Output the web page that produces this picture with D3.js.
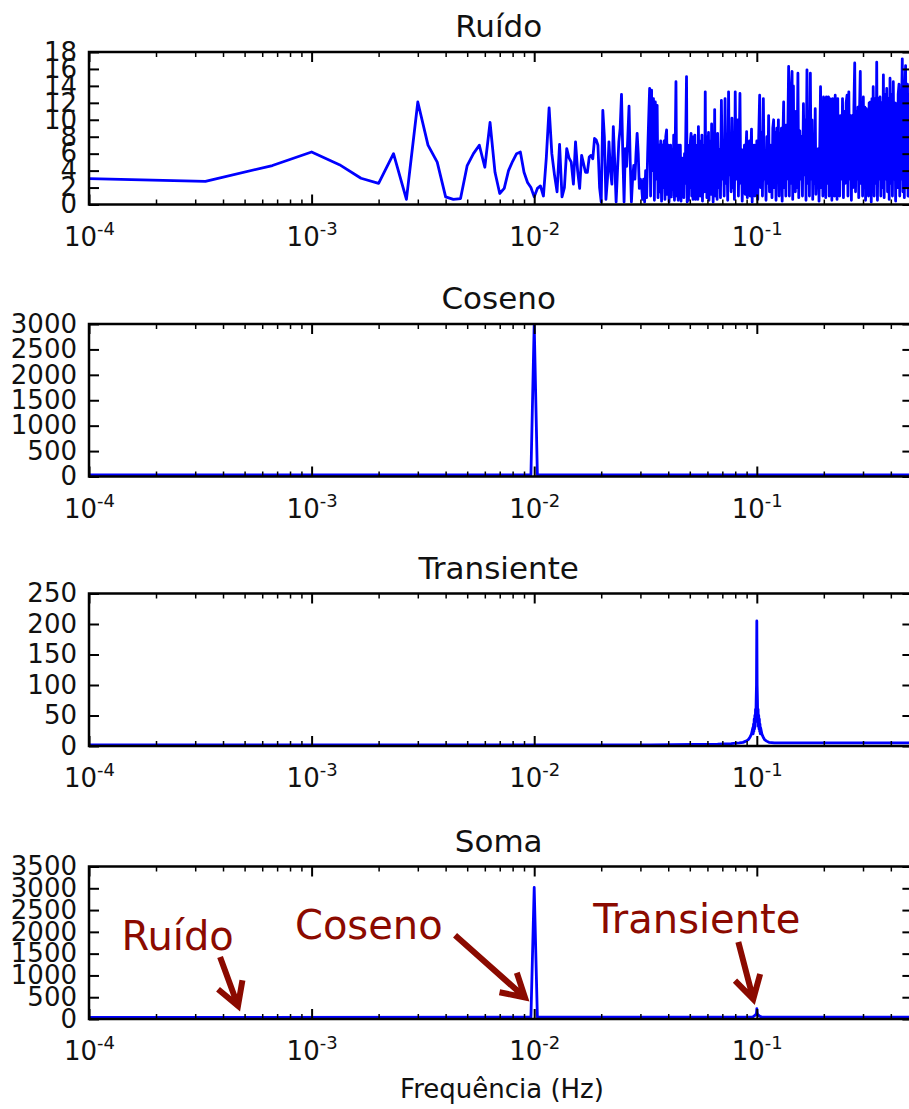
<!DOCTYPE html>
<html>
<head>
<meta charset="utf-8">
<script src="https://cdn.jsdelivr.net/npm/d3@7/dist/d3.min.js"></script>
<style>
  body { margin: 0; background: #fff; }
  svg text { font-family: "DejaVu Sans", sans-serif; }
</style>
</head>
<body>
<div id="chart"></div>
<script>
// spectra are stored as [FFT bin, amplitude]; bin k is k / 3000 Hz (3000 samples at 1 Hz)
const nSamples = 3000;

const titles = ['Ruído', 'Coseno', 'Transiente', 'Soma'];
const yMax = [18, 3000, 250, 3500];
const yStep = [2, 500, 50, 500];
const xMajorTicks = [1e-4, 1e-3, 1e-2, 1e-1];
const xTickExponents = ['-4', '-3', '-2', '-1'];
const xLabel = 'Frequência (Hz)';

const ruido = [
  [0, 3.05], [1, 2.72], [2, 4.6], [3, 6.2], [4, 4.7], [5, 3.1], [6, 2.5], [7, 6.0], [8, 0.6], [9, 12.1],
  [10, 7.0], [11, 5.0], [12, 0.9], [13, 0.6], [14, 0.7], [15, 4.6], [16, 6.0], [17, 7.0], [18, 4.4], [19, 9.7],
  [20, 3.8], [21, 1.3], [22, 1.9], [23, 4.0], [24, 5.1], [25, 6.0], [26, 6.2], [27, 3.8], [28, 2.6], [29, 2.0],
  [30, 0.9], [31, 1.9], [32, 2.2], [33, 1.0], [34, 5.5], [35, 11.4], [36, 6.0], [37, 3.5], [38, 1.5], [39, 7.1],
  [40, 0.9], [41, 2.0], [42, 6.6], [43, 5.5], [44, 5.0], [45, 2.4], [46, 7.4], [47, 4.0], [48, 1.9], [49, 5.8],
  [50, 4.8], [51, 3.8], [52, 3.8], [53, 5.6], [54, 5.8], [55, 5.4], [56, 7.8], [57, 7.6], [58, 7.0], [59, 2.0],
  [60, 0.3], [61, 11.1], [62, 8.0], [63, 0.6], [64, 3.0], [65, 7.4], [66, 4.0], [67, 2.4], [68, 9.2], [69, 5.0],
  [70, 0.3], [71, 4.0], [72, 7.4], [73, 9.0], [74, 13.0], [75, 6.0], [76, 0.3], [77, 6.6], [78, 4.5], [79, 8.0],
  [80, 11.6], [81, 5.0], [82, 0.3], [83, 3.0], [84, 4.6], [85, 3.0], [86, 6.0], [87, 8.4], [88, 6.0], [89, 1.9],
  [90, 3.0], [91, 2.4], [92, 0.6], [93, 3.0], [94, 0.3], [95, 4.0], [96, 0.8], [97, 6.0], [98, 10.0], [99, 13.7],
  [100, 1.0], [101, 13.5], [102, 4.0], [103, 12.5], [104, 0.5], [105, 12.1], [106, 3.0], [107, 11.7], [108, 0.8], [109, 7.0],
  [110, 1.5], [111, 7.5], [112, 0.4], [113, 7.0], [114, 2.0], [115, 7.5], [116, 0.6], [117, 8.0], [118, 8.8], [119, 1.2],
  [120, 7.0], [121, 0.3], [122, 2.4], [123, 7.0], [124, 0.9], [125, 6.5], [126, 1.8], [127, 8.2], [128, 0.5], [129, 7.0],
  [130, 14.5], [131, 1.0], [132, 6.0], [133, 0.5], [134, 7.0], [135, 2.0], [136, 7.0], [137, 0.4], [138, 5.5], [139, 1.5],
  [140, 4.0], [141, 0.8], [142, 6.0], [143, 2.5], [144, 9.0], [145, 15.1], [146, 0.3], [147, 7.0], [148, 0.5], [149, 6.0],
  [150, 2.0], [151, 7.5], [152, 8.4], [153, 1.0], [154, 7.5], [155, 0.6], [156, 8.0], [157, 1.5], [158, 8.2], [159, 0.6],
  [160, 7.0], [161, 2.0], [162, 5.5], [163, 0.6], [164, 9.2], [165, 3.0], [166, 6.0], [167, 1.0], [168, 7.5], [169, 2.5],
  [170, 8.2], [171, 0.4], [172, 5.0], [173, 3.0], [174, 7.0], [175, 1.5], [176, 13.3], [177, 2.0], [178, 6.5], [179, 0.8],
  [180, 8.0], [181, 3.5], [182, 8.5], [183, 0.5], [184, 6.0], [185, 2.0], [186, 7.5], [187, 1.2], [188, 9.5], [189, 3.0],
  [190, 5.5], [191, 0.3], [192, 7.0], [193, 2.5], [194, 11.2], [195, 1.0], [196, 6.0], [197, 3.5], [198, 7.5], [199, 0.6],
  [200, 8.4], [202, 2.0], [204, 6.5], [206, 0.8], [208, 12.3], [210, 3.0], [212, 7.0], [214, 1.0], [216, 12.5], [218, 2.5],
  [220, 6.5], [222, 0.5], [224, 13.3], [226, 3.5], [228, 7.5], [230, 1.5], [232, 10.2], [234, 2.0], [236, 7.0], [238, 0.6],
  [240, 13.3], [242, 3.0], [244, 6.0], [246, 10.0], [248, 1.0], [250, 7.0], [252, 13.1], [254, 2.5], [256, 6.5], [258, 0.4],
  [260, 6.4], [262, 3.0], [264, 7.0], [266, 1.2], [268, 6.0], [270, 8.6], [272, 0.8], [274, 5.5], [276, 2.5], [278, 7.5],
  [280, 1.0], [282, 6.0], [284, 8.9], [286, 0.3], [288, 6.5], [290, 3.0], [292, 7.0], [294, 1.0], [296, 7.0], [298, 2.0],
  [300, 7.5], [303, 0.6], [306, 8.0], [309, 12.9], [312, 2.0], [315, 8.5], [318, 1.0], [321, 12.5], [324, 3.0], [327, 5.6],
  [330, 0.5], [333, 8.0], [336, 2.5], [339, 10.5], [342, 1.5], [345, 7.0], [348, 5.6], [351, 0.8], [354, 9.0], [357, 10.0],
  [360, 2.0], [363, 8.5], [366, 0.5], [369, 9.0], [372, 3.0], [375, 10.0], [378, 1.0], [381, 8.4], [384, 3.5], [387, 9.0],
  [390, 0.4], [393, 8.0], [396, 12.1], [399, 2.0], [402, 9.0], [405, 1.0], [408, 9.4], [411, 3.0], [414, 10.0], [417, 16.3],
  [420, 1.0], [423, 11.0], [426, 2.5], [429, 14.0], [432, 15.7], [435, 0.6], [438, 14.0], [441, 3.0], [444, 10.0], [447, 1.5],
  [450, 11.0], [454, 2.0], [459, 15.5], [463, 0.8], [468, 8.7], [472, 3.0], [477, 8.0], [481, 1.0], [486, 11.9], [490, 3.5],
  [495, 10.0], [499, 0.5], [504, 15.9], [508, 2.5], [513, 11.0], [517, 1.0], [522, 15.5], [526, 3.0], [531, 10.0], [535, 0.6],
  [540, 7.0], [544, 2.5], [549, 11.3], [553, 1.2], [558, 6.0], [562, 3.0], [567, 6.6], [571, 0.4], [576, 8.0], [580, 13.9],
  [585, 2.0], [589, 12.0], [594, 1.0], [598, 12.7], [603, 3.0], [607, 12.5], [612, 0.8], [616, 12.7], [621, 2.5], [625, 12.0],
  [630, 12.7], [634, 1.0], [639, 12.5], [643, 3.5], [648, 12.3], [652, 0.5], [657, 12.5], [661, 2.0], [666, 12.0], [670, 1.0],
  [675, 12.9], [679, 3.0], [684, 12.0], [688, 0.6], [693, 12.5], [697, 2.0], [700, 10.5], [707, 1.0], [714, 10.5], [721, 3.0],
  [728, 12.5], [735, 0.8], [742, 11.0], [749, 2.5], [756, 12.0], [763, 12.9], [770, 1.0], [777, 13.3], [784, 3.0], [791, 10.5],
  [798, 0.5], [805, 10.5], [812, 2.0], [819, 11.5], [826, 16.7], [833, 1.5], [840, 11.0], [847, 3.0], [854, 11.5], [861, 0.8],
  [868, 11.0], [875, 15.7], [882, 2.5], [889, 11.5], [896, 1.0], [903, 12.7], [910, 3.0], [917, 11.5], [924, 0.5], [931, 11.3],
  [938, 2.0], [945, 11.0], [952, 1.0], [959, 12.0], [966, 3.0], [973, 12.1], [980, 0.3], [987, 12.5], [994, 2.0], [1000, 13.9],
  [1010, 1.0], [1020, 12.5], [1030, 2.5], [1037, 16.8], [1045, 0.5], [1055, 12.5], [1065, 3.0], [1073, 12.7], [1082, 1.0], [1092, 12.0],
  [1102, 2.0], [1111, 15.3], [1120, 0.8], [1130, 13.0], [1140, 3.0], [1150, 13.7], [1160, 1.5], [1170, 12.5], [1180, 0.6], [1190, 14.9],
  [1200, 2.5], [1210, 13.0], [1220, 1.0], [1231, 14.5], [1241, 3.0], [1251, 12.0], [1261, 0.4], [1274, 11.9], [1284, 2.0], [1295, 13.0],
  [1306, 14.2], [1316, 1.0], [1326, 13.5], [1336, 3.0], [1345, 13.5], [1351, 17.2], [1360, 1.5], [1370, 14.0], [1380, 0.8], [1390, 14.0],
  [1398, 16.4], [1406, 2.0], [1414, 13.0], [1426, 14.2], [1434, 1.0], [1444, 13.0], [1454, 2.5], [1464, 12.0], [1474, 0.5], [1484, 12.0],
  [1492, 1.0], [1500, 10.0]
];

const coseno = [[0, 30], [29, 30], [30, 3000], [31, 30], [1500, 30]];

const transiente = [
  [0, 2], [100, 2], [200, 3], [230, 4], [250, 5], [260, 6], [268, 8], [274, 10], [278, 13], [281, 16],
  [284, 20], [286, 25], [288, 30], [289, 20], [290, 36], [291, 24], [292, 44], [293, 28], [294, 50], [295, 32],
  [296, 60], [297, 40], [298, 75], [299, 100], [300, 205], [301, 100], [302, 75], [303, 40], [304, 60], [305, 32],
  [306, 50], [307, 28], [308, 44], [309, 24], [310, 36], [311, 20], [312, 30], [314, 25], [316, 20], [319, 16],
  [322, 13], [326, 10], [332, 8], [340, 6], [360, 5], [1500, 5]
];

const soma = [
  [0, 35], [29, 40], [30, 3020], [31, 40], [285, 40], [290, 60], [294, 80], [297, 100], [299, 140], [300, 235],
  [301, 140], [303, 100], [306, 80], [310, 60], [316, 45], [1500, 40]
];

const series = [ruido, coseno, transiente, soma];

// annotations on the "Soma" panel: text anchor, arrow tail and arrow tip in data units (Hz, amplitude)
const annotations = [
  { label: 'Ruído', text: [1.40e-4, 1576], tail: [3.88e-4, 1421], tip: [4.67e-4, 301] },
  { label: 'Coseno', text: [8.42e-4, 1847], tail: [4.41e-3, 1924], tip: [9.09e-3, 494] },
  { label: 'Transiente', text: [1.843e-2, 1963], tail: [8.26e-2, 1769], tip: [9.64e-2, 457] }
];

const width = 909;
const height = 1109;
const plotLeft = 89;
const plotRight = 912.4;   // right spine falls just outside the picture
const panelTops = [52, 324, 593.5, 866.5];
const panelHeight = 152.5;
const tickFont = 26;
const blue = '#0000ff';
const annotColor = '#8b0a00';

const svg = d3.select('#chart')
  .append('svg')
  .attr('width', width)
  .attr('height', height)
  .style('background', '#fff');

const x = d3.scaleLog()
  .domain([1e-4, 0.5])
  .range([plotLeft, plotRight])
  .clamp(true);   // DC bin (0 Hz) is pinned to the left edge, like a clipped log axis

const isMajor = t => xMajorTicks.some(m => Math.abs(t / m - 1) < 1e-9);
const xMinorTicks = x.ticks().filter(t => !isMajor(t));

const line = d3.line()
  .x(d => x(d[0] / nSamples));

series.forEach((data, i) => {
  const top = panelTops[i];
  const bottom = top + panelHeight;
  const y = d3.scaleLinear().domain([0, yMax[i]]).range([bottom, top]);
  const yTicks = d3.range(0, yMax[i] + yStep[i] / 2, yStep[i]);

  const g = svg.append('g');

  g.append('clipPath')
    .attr('id', `clip${i}`)
    .append('rect')
    .attr('x', plotLeft)
    .attr('y', top)
    .attr('width', plotRight - plotLeft)
    .attr('height', panelHeight);

  // spectrum
  g.append('path')
    .datum(data)
    .attr('clip-path', `url(#clip${i})`)
    .attr('fill', 'none')
    .attr('stroke', blue)
    .attr('stroke-width', 2.8)
    .attr('stroke-linejoin', 'round')
    .attr('d', line.y(d => y(d[1])));

  // left axis with labels, ticks pointing in
  g.append('g')
    .attr('transform', `translate(${plotLeft},0)`)
    .call(d3.axisLeft(y).tickValues(yTicks).tickFormat(d3.format('d'))
      .tickSizeInner(-10).tickSizeOuter(0).tickPadding(12))
    .call(a => a.select('.domain').remove())
    .call(a => a.selectAll('line').attr('stroke-width', 2))
    .call(a => a.selectAll('text').attr('font-size', tickFont).attr('fill', '#111')
      .attr('font-family', '"DejaVu Sans", sans-serif'));

  // right axis, ticks only
  g.append('g')
    .attr('transform', `translate(${plotRight},0)`)
    .call(d3.axisRight(y).tickValues(yTicks).tickSizeInner(-10).tickSizeOuter(0).tickFormat(''))
    .call(a => a.select('.domain').remove())
    .call(a => a.selectAll('line').attr('stroke-width', 2));

  // bottom major ticks with 10^n labels
  g.append('g')
    .attr('transform', `translate(0,${bottom})`)
    .call(d3.axisBottom(x).tickValues(xMajorTicks).tickSizeInner(-10).tickSizeOuter(0).tickPadding(23))
    .call(a => a.select('.domain').remove())
    .call(a => a.selectAll('line').attr('stroke-width', 2))
    .call(a => a.selectAll('text')
      .attr('font-size', tickFont)
      .attr('fill', '#111')
      .attr('font-family', '"DejaVu Sans", sans-serif')
      .each(function(d, j) {
        const t = d3.select(this).text('10');
        t.append('tspan')
          .attr('dy', -11)
          .attr('font-size', 18)
          .text(xTickExponents[j]);
      }));

  // bottom minor ticks
  g.append('g')
    .attr('transform', `translate(0,${bottom})`)
    .call(d3.axisBottom(x).tickValues(xMinorTicks).tickSizeInner(-5).tickSizeOuter(0).tickFormat(''))
    .call(a => a.select('.domain').remove())
    .call(a => a.selectAll('line').attr('stroke-width', 1.5));

  // top ticks
  g.append('g')
    .attr('transform', `translate(0,${top})`)
    .call(d3.axisTop(x).tickValues(xMajorTicks).tickSizeInner(-10).tickSizeOuter(0).tickFormat(''))
    .call(a => a.select('.domain').remove())
    .call(a => a.selectAll('line').attr('stroke-width', 2));

  g.append('g')
    .attr('transform', `translate(0,${top})`)
    .call(d3.axisTop(x).tickValues(xMinorTicks).tickSizeInner(-5).tickSizeOuter(0).tickFormat(''))
    .call(a => a.select('.domain').remove())
    .call(a => a.selectAll('line').attr('stroke-width', 1.5));

  // frame
  g.append('rect')
    .attr('x', plotLeft)
    .attr('y', top)
    .attr('width', plotRight - plotLeft)
    .attr('height', panelHeight)
    .attr('fill', 'none')
    .attr('stroke', '#000')
    .attr('stroke-width', 2.5);

  // title
  g.append('text')
    .attr('x', (plotLeft + plotRight) / 2 - 2)
    .attr('y', top - 15)
    .attr('text-anchor', 'middle')
    .attr('font-size', 31)
    .attr('fill', '#111')
    .text(titles[i]);

  if (i === series.length - 1) {
    g.append('text')
      .attr('x', 502)
      .attr('y', bottom + 79)
      .attr('text-anchor', 'middle')
      .attr('font-size', tickFont)
      .attr('fill', '#111')
      .text(xLabel);

    const notes = g.append('g');
    annotations.forEach(a => {
      const tip = [x(a.tip[0]), y(a.tip[1])];
      const tail = [x(a.tail[0]), y(a.tail[1])];
      const ang = Math.atan2(tip[1] - tail[1], tip[0] - tail[0]);
      const armLen = 26;
      const spread = Math.PI / 6;
      const armA = [tip[0] - armLen * Math.cos(ang - spread), tip[1] - armLen * Math.sin(ang - spread)];
      const armB = [tip[0] - armLen * Math.cos(ang + spread), tip[1] - armLen * Math.sin(ang + spread)];
      const shaftEnd = [tip[0] - 3 * Math.cos(ang), tip[1] - 3 * Math.sin(ang)];

      notes.append('path')
        .attr('d', `M${tail}L${shaftEnd}M${armA}L${tip}L${armB}`)
        .attr('fill', 'none')
        .attr('stroke', annotColor)
        .attr('stroke-width', 6)
        .attr('stroke-linejoin', 'miter');

      notes.append('text')
        .attr('x', x(a.text[0]))
        .attr('y', y(a.text[1]))
        .attr('font-family', '"Noto Sans", sans-serif')
        .attr('font-size', 40)
        .attr('fill', annotColor)
        .text(a.label);
    });
  }
});
</script>
</body>
</html>
